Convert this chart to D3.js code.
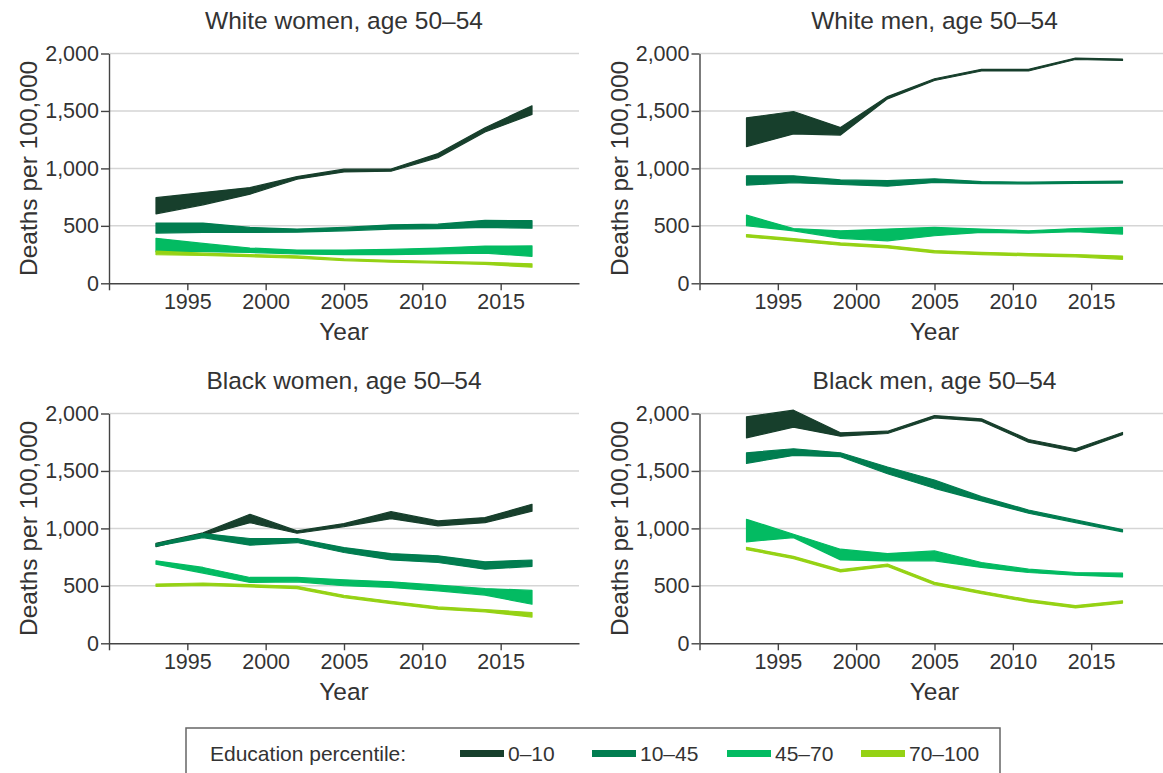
<!DOCTYPE html>
<html>
<head>
<meta charset="utf-8">
<script src="https://cdn.jsdelivr.net/npm/d3@7"></script>
<style>
  html, body { margin: 0; padding: 0; background: #fff; }
  svg { display: block; font-family: "Liberation Sans", Arial, Helvetica, sans-serif; }
</style>
</head>
<body>
<svg id="chart" width="1163" height="773"></svg>
<script>
// Survey years (every third year)
const years = [1993, 1996, 1999, 2002, 2005, 2008, 2011, 2014, 2017];

// Education percentile groups and their colours
const groups = ["0–10", "10–45", "45–70", "70–100"];
const groupColors = ["#173f2c", "#017d50", "#03bb62", "#95d214"];

const panelTitles = [
  "White women, age 50–54",
  "White men, age 50–54",
  "Black women, age 50–54",
  "Black men, age 50–54"
];

const yTicks = [0, 500, 1000, 1500, 2000];
const xTicks = [1995, 2000, 2005, 2010, 2015];

// Deaths per 100,000 — upper and lower edge of each band, one row per education group
const whiteWomenUpper = [
  [745, 790, 833, 929, 993, 995, 1129, 1354, 1545],
  [524, 524, 486, 472, 486, 509, 515, 548, 545],
  [391, 347, 307, 289, 289, 295, 307, 324, 325],
  [280, 262, 250, 238, 212, 200, 190, 182, 170]
];
const whiteWomenLower = [
  [605, 683, 776, 906, 969, 975, 1094, 1317, 1470],
  [437, 443, 443, 445, 457, 472, 475, 486, 480],
  [275, 275, 269, 255, 249, 249, 255, 263, 235],
  [250, 242, 232, 218, 198, 184, 176, 164, 140]
];

const whiteMenUpper = [
  [1440, 1495, 1355, 1625, 1780, 1862, 1862, 1960, 1952],
  [935, 935, 900, 893, 910, 885, 880, 885, 890],
  [593, 477, 457, 472, 486, 472, 457, 477, 486],
  [424, 389, 351, 328, 285, 270, 259, 250, 237]
];
const whiteMenLower = [
  [1190, 1300, 1290, 1605, 1765, 1848, 1848, 1948, 1940],
  [855, 875, 860, 845, 878, 868, 865, 870, 872],
  [501, 457, 391, 370, 414, 443, 437, 449, 428],
  [404, 369, 331, 308, 265, 250, 239, 230, 209]
];

const blackWomenUpper = [
  [871, 961, 1123, 978, 1042, 1146, 1065, 1094, 1210],
  [865, 955, 912, 912, 833, 781, 761, 709, 725],
  [718, 660, 573, 573, 553, 535, 506, 477, 460],
  [516, 525, 511, 496, 418, 366, 317, 294, 268]
];
const blackWomenLower = [
  [842, 938, 1050, 958, 1016, 1085, 1022, 1050, 1150],
  [845, 920, 854, 877, 790, 726, 703, 645, 670],
  [689, 611, 530, 535, 501, 486, 457, 420, 340],
  [496, 505, 491, 476, 398, 346, 297, 274, 228]
];

const blackMenUpper = [
  [1971, 2029, 1832, 1846, 1982, 1953, 1774, 1693, 1835],
  [1658, 1693, 1658, 1534, 1421, 1276, 1160, 1074, 990],
  [1079, 949, 819, 781, 804, 703, 645, 616, 610],
  [835, 757, 641, 690, 531, 453, 380, 328, 370]
];
const blackMenLower = [
  [1788, 1881, 1803, 1826, 1962, 1933, 1751, 1670, 1815],
  [1566, 1635, 1624, 1476, 1349, 1239, 1132, 1051, 970],
  [883, 920, 726, 718, 718, 660, 616, 593, 578],
  [815, 737, 621, 670, 511, 433, 360, 308, 350]
];

const panelUpper = [whiteWomenUpper, whiteMenUpper, blackWomenUpper, blackMenUpper];
const panelLower = [whiteWomenLower, whiteMenLower, blackWomenLower, blackMenLower];

const svg = d3.select("#chart");
const axisColor = "#444";
const textColor = "#333";

// Plot rectangles for the 2x2 grid
const colLeft = [109, 699.5];
const plotW = 470;
const rowBottom = [283.3, 643.3];
const plotH = 229.8;

panelTitles.forEach((title, i) => {
  const col = i % 2, row = Math.floor(i / 2);
  const x0 = colLeft[col], x1 = x0 + plotW;
  const yb = rowBottom[row], yt = yb - plotH;

  const x = d3.scaleLinear().domain([1990, 2020]).range([x0, x1]);
  const y = d3.scaleLinear().domain([0, 2000]).range([yb, yt]);

  const g = svg.append("g");

  // horizontal gridlines
  g.append("g").selectAll("line").data(yTicks.slice(1)).join("line")
    .attr("x1", x0).attr("x2", x1)
    .attr("y1", d => y(d)).attr("y2", d => y(d))
    .attr("stroke", "#d5d5d5").attr("stroke-width", 1.5);

  // bands
  const area = d3.area()
    .x((d, k) => x(years[k]))
    .y0(d => y(d[0]))
    .y1(d => y(d[1]));

  groups.forEach((grp, gi) => {
    const pts = years.map((yr, k) => [panelLower[i][gi][k], panelUpper[i][gi][k]]);
    g.append("path")
      .datum(pts)
      .attr("d", area)
      .attr("fill", groupColors[gi])
      .attr("stroke", groupColors[gi])
      .attr("stroke-width", 1.2)
      .attr("stroke-linejoin", "round");
  });

  // y axis
  const yAxis = d3.axisLeft(y).tickValues(yTicks).tickFormat(d3.format(","))
    .tickSize(8).tickPadding(2).tickSizeOuter(0);
  const ya = g.append("g").attr("transform", `translate(${x0},0)`).call(yAxis);

  // x axis
  const xAxis = d3.axisBottom(x).tickValues([1990].concat(xTicks))
    .tickFormat(d => d === 1990 ? "" : d)
    .tickSize(7).tickPadding(3).tickSizeOuter(0);
  const xa = g.append("g").attr("transform", `translate(0,${yb})`).call(xAxis);

  [ya, xa].forEach(a => {
    a.select(".domain").attr("stroke", axisColor).attr("stroke-width", 1.4);
    a.selectAll(".tick line").attr("stroke", axisColor).attr("stroke-width", 1.4);
    a.selectAll(".tick text").attr("fill", textColor)
      .style("font-size", "21.5px").style("font-family", "'Liberation Sans', Arial, sans-serif");
  });

  // panel title
  g.append("text")
    .attr("x", (x0 + x1) / 2).attr("y", yt - 25)
    .attr("text-anchor", "middle").attr("fill", textColor)
    .style("font-size", "24.5px")
    .text(title);

  // x axis title
  g.append("text")
    .attr("x", (x0 + x1) / 2).attr("y", yb + 57)
    .attr("text-anchor", "middle").attr("fill", textColor)
    .style("font-size", "24.5px")
    .text("Year");

  // y axis title
  g.append("text")
    .attr("transform", `translate(${x0 - 72},${(yt + yb) / 2}) rotate(-90)`)
    .attr("text-anchor", "middle").attr("fill", textColor)
    .style("font-size", "24.5px")
    .text("Deaths per 100,000");
});

// legend
const legend = svg.append("g");
legend.append("rect")
  .attr("x", 186).attr("y", 728).attr("width", 814).attr("height", 70)
  .attr("fill", "#fff").attr("stroke", "#666").attr("stroke-width", 1.5);
legend.append("text")
  .attr("x", 210).attr("y", 761).attr("fill", textColor)
  .style("font-size", "21px")
  .text("Education percentile:");

const swatchX = [460, 592, 727, 861];
groups.forEach((grp, gi) => {
  legend.append("rect")
    .attr("x", swatchX[gi]).attr("y", 750).attr("width", 44).attr("height", 7)
    .attr("fill", groupColors[gi]);
  legend.append("text")
    .attr("x", swatchX[gi] + 48).attr("y", 761).attr("fill", textColor)
    .style("font-size", "21px")
    .text(grp);
});
</script>
</body>
</html>
